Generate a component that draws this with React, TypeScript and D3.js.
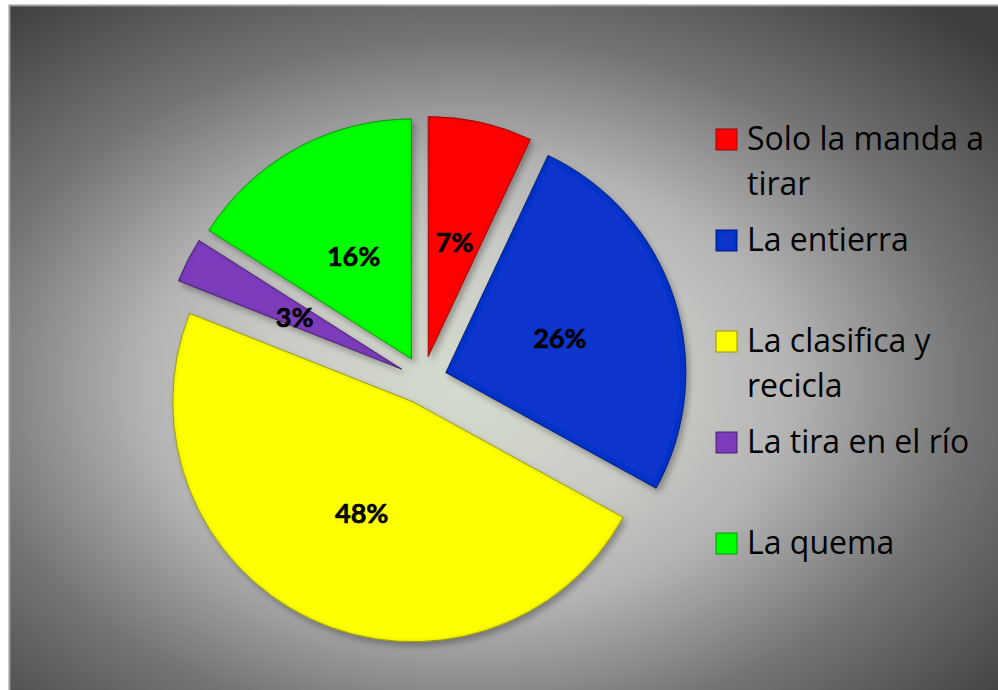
import React, { useMemo } from "react";
import * as d3 from "d3";

const categories = ["Solo la manda a tirar", "La entierra", "La clasifica y recicla", "La tira en el río", "La quema"];
const values = [7, 26, 48, 3, 16];
const percentLabels = ["7%", "26%", "48%", "3%", "16%"];
const colors = ["#ff0000", "#0a34cc", "#ffff00", "#7d3dbb", "#00ff00"];
const strokes = ["#a00000", "#061f80", "#a0a000", "#4a2170", "#00a000"];

const W = 998;
const H = 690;

function wrapText(text: string, maxWidth: number, font: string): string[] {
  const canvas = document.createElement("canvas");
  const ctx = canvas.getContext("2d");
  if (!ctx) return [text];
  ctx.font = font;
  const words = text.split(" ");
  const lines: string[] = [];
  let cur = "";
  for (const w of words) {
    const test = cur ? cur + " " + w : w;
    if (ctx.measureText(test).width > maxWidth && cur) {
      lines.push(cur);
      cur = w;
    } else {
      cur = test;
    }
  }
  if (cur) lines.push(cur);
  return lines;
}

export default function App() {
  const cx = 423;
  const cy = 380;
  const r = 240;
  const explode = 24;

  const arcs = useMemo(() => d3.pie<number>().sort(null).startAngle(0).endAngle(2 * Math.PI)(values), []);
  const arcGen = d3.arc<d3.PieArcDatum<number>>().innerRadius(0).outerRadius(r);

  const legendFont = "32px 'Open Sans'";
  const legendX = 716;
  const legendTop = 150;
  const legendStep = 101;
  const lineH = 45;

  return (
    <svg width={W} height={H} style={{ position: "absolute", left: 0, top: 0 }} fontFamily="Lato, 'Open Sans', sans-serif">
      <defs>
        <radialGradient id="bg" cx="0.46" cy="0.55" r="0.72" gradientUnits="objectBoundingBox">
          <stop offset="0" stopColor="#d5dbcd" />
          <stop offset="0.28" stopColor="#c9cbc5" />
          <stop offset="0.45" stopColor="#b4b4b4" />
          <stop offset="0.7" stopColor="#747474" />
          <stop offset="1" stopColor="#3e3e3e" />
        </radialGradient>
        <filter id="slice" x="-10%" y="-10%" width="125%" height="125%">
          <feGaussianBlur in="SourceAlpha" stdDeviation="3" result="sb" />
          <feOffset in="sb" dx="3" dy="4" result="so" />
          <feFlood floodColor="#000" floodOpacity="0.3" />
          <feComposite in2="so" operator="in" result="shadow" />
          <feGaussianBlur in="SourceAlpha" stdDeviation="2.5" result="ib" />
          <feComposite in="SourceAlpha" in2="ib" operator="out" result="edge" />
          <feFlood floodColor="#000" floodOpacity="0.4" />
          <feComposite in2="edge" operator="in" result="edgeDark" />
          <feMerge>
            <feMergeNode in="shadow" />
            <feMergeNode in="SourceGraphic" />
            <feMergeNode in="edgeDark" />
          </feMerge>
        </filter>
        <filter id="sq" x="-20%" y="-20%" width="150%" height="150%">
          <feGaussianBlur in="SourceAlpha" stdDeviation="1.5" result="ib" />
          <feComposite in="SourceAlpha" in2="ib" operator="out" result="edge" />
          <feFlood floodColor="#000" floodOpacity="0.4" />
          <feComposite in2="edge" operator="in" result="edgeDark" />
          <feMerge>
            <feMergeNode in="SourceGraphic" />
            <feMergeNode in="edgeDark" />
          </feMerge>
        </filter>
      </defs>
      <rect x={9.5} y={5.5} width={995} height={690} fill="url(#bg)" stroke="#9a9a9a" strokeWidth={2} />

      <g transform={`translate(${cx},${cy})`}>
        {arcs.map((a, i) => {
          const mid = (a.startAngle + a.endAngle) / 2;
          const dx = Math.sin(mid) * explode;
          const dy = -Math.cos(mid) * explode;
          return (
            <g key={i} transform={`translate(${dx},${dy})`}>
              <path d={arcGen(a) || ""} fill={colors[i]} stroke={strokes[i]} strokeWidth={0.8} filter="url(#slice)" />
            </g>
          );
        })}
        {arcs.map((a, i) => {
          const mid = (a.startAngle + a.endAngle) / 2;
          const dx = Math.sin(mid) * explode;
          const dy = -Math.cos(mid) * explode;
          const [lx, ly] = arcGen.centroid(a);
          return (
            <text key={i} x={lx + dx} y={ly + dy + 2} textAnchor="middle" dominantBaseline="central" fontWeight="bold" fontSize={27} fill="#000" stroke="#000" strokeWidth={0.6}>
              {percentLabels[i]}
            </text>
          );
        })}
      </g>

      <g fontFamily="'Open Sans', sans-serif">
        {categories.map((c, i) => {
          const lines = wrapText(c, 245, legendFont);
          const by = legendTop + i * legendStep;
          return (
            <g key={i}>
              <rect x={legendX} y={by - 21} width={21} height={21} fill={colors[i]} stroke={strokes[i]} strokeWidth={0.8} filter="url(#sq)" />
              <text x={legendX + 31} y={by} fontSize={32} fill="#000">
                {lines.map((l, j) => (
                  <tspan key={j} x={legendX + 31} y={by + j * lineH}>
                    {l}
                  </tspan>
                ))}
              </text>
            </g>
          );
        })}
      </g>
    </svg>
  );
}
